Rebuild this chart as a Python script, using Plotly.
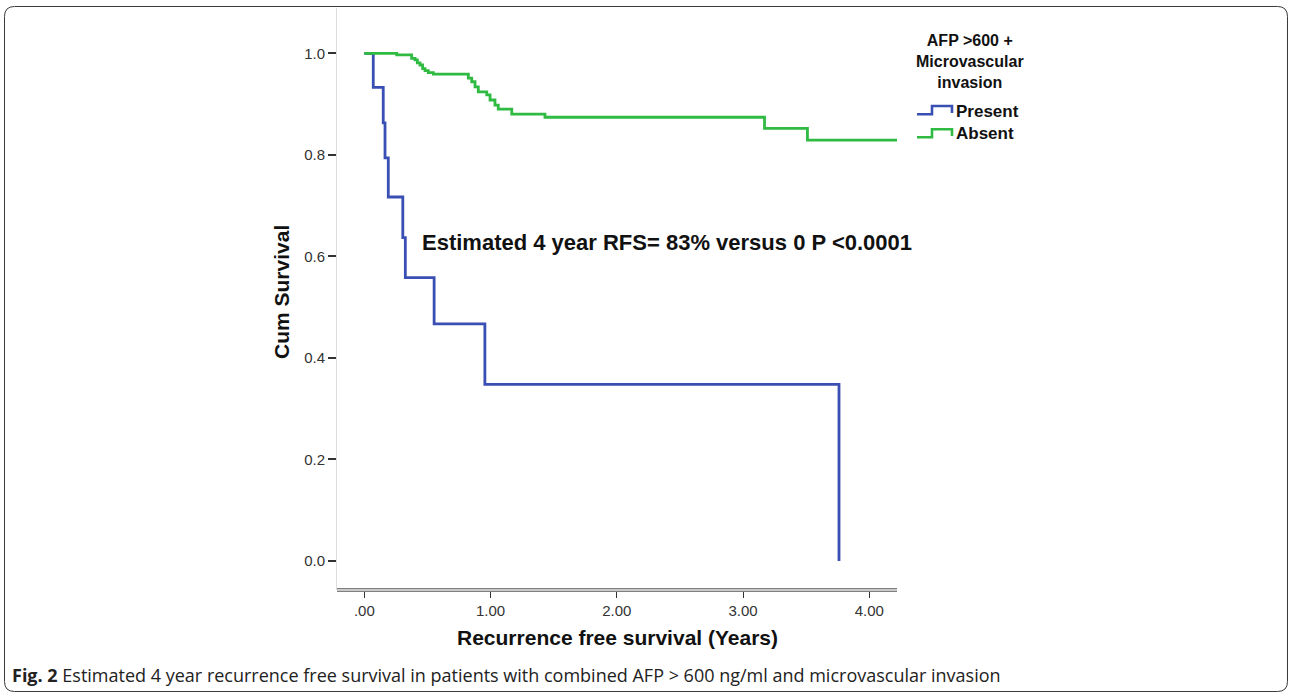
import plotly.graph_objects as go

# ---- data ----
present_t = [0.0, 0.071, 0.150, 0.164, 0.190, 0.305, 0.325, 0.553, 0.955, 3.76]
present_s = [1.0, 0.933, 0.863, 0.794, 0.717, 0.637, 0.558, 0.467, 0.348, 0.0]

absent_t = [0.0, 0.257, 0.375, 0.402, 0.420, 0.441, 0.462, 0.481, 0.507, 0.547,
            0.824, 0.851, 0.877, 0.903, 0.970, 0.996, 1.035, 1.061, 1.168, 1.431,
            3.17, 3.51, 4.22]
absent_s = [1.0, 0.997, 0.990, 0.987, 0.981, 0.977, 0.970, 0.966, 0.962, 0.959,
            0.951, 0.944, 0.934, 0.924, 0.918, 0.908, 0.898, 0.890, 0.880, 0.874,
            0.852, 0.829, 0.829]

x_tickvals = [0, 1, 2, 3, 4]
x_ticktext = [".00", "1.00", "2.00", "3.00", "4.00"]
y_tickvals = [0, 0.2, 0.4, 0.6, 0.8, 1.0]
y_ticktext = ["0.0", "0.2", "0.4", "0.6", "0.8", "1.0"]

series_names = ["Present", "Absent"]
legend_title = "AFP >600 +<br>Microvascular<br>invasion"
BLUE = "#3a4fb3"
GREEN = "#2fba42"

# ---- layout geometry (pixels) ----
FW, FH = 1292, 695
L, R, T, B = 337, 897, 8, 590
W, H = R - L, B - T


def xp(px):
    return (px - L) / W


def yp(py):
    return (B - py) / H


FONT = "Liberation Sans, Arial, sans-serif"
CAPFONT = "Open Sans, Liberation Sans, sans-serif"

fig = go.Figure()
fig.add_trace(go.Scatter(x=present_t, y=present_s, mode="lines", line_shape="hv",
                         line=dict(color=BLUE, width=2.8), name=series_names[0],
                         showlegend=False))
fig.add_trace(go.Scatter(x=absent_t, y=absent_s, mode="lines", line_shape="hv",
                         line=dict(color=GREEN, width=2.8), name=series_names[1],
                         showlegend=False))

shapes = []
# double x-axis line
shapes.append(dict(type="line", xref="paper", yref="paper", x0=0, x1=1,
                   y0=yp(590), y1=yp(590), line=dict(color="#808080", width=4.2)))
shapes.append(dict(type="line", xref="paper", yref="paper", x0=0, x1=1,
                   y0=yp(590), y1=yp(590), line=dict(color="#e2e2e2", width=1.4)))


# legend step symbols
def step_path(y_low, y_high, y_end):
    pts = [(917, y_low), (932, y_low), (932, y_high), (952, y_high), (952, y_end)]
    return "M " + " L ".join(f"{xp(a):.5f},{yp(b):.5f}" for a, b in pts)


shapes.append(dict(type="path", xref="paper", yref="paper",
                   path=step_path(114.3, 106, 113), line=dict(color=BLUE, width=2.6)))
shapes.append(dict(type="path", xref="paper", yref="paper",
                   path=step_path(137.3, 129.3, 136), line=dict(color=GREEN, width=2.6)))

# outer rounded frame
x0f, y0f, x1f, y1f, rr = 4.5, 6.5, 1287.5, 691.5, 10
frame = (f"M {xp(x0f + rr):.5f},{yp(y0f):.5f} L {xp(x1f - rr):.5f},{yp(y0f):.5f} "
         f"Q {xp(x1f):.5f},{yp(y0f):.5f} {xp(x1f):.5f},{yp(y0f + rr):.5f} "
         f"L {xp(x1f):.5f},{yp(y1f - rr):.5f} "
         f"Q {xp(x1f):.5f},{yp(y1f):.5f} {xp(x1f - rr):.5f},{yp(y1f):.5f} "
         f"L {xp(x0f + rr):.5f},{yp(y1f):.5f} "
         f"Q {xp(x0f):.5f},{yp(y1f):.5f} {xp(x0f):.5f},{yp(y1f - rr):.5f} "
         f"L {xp(x0f):.5f},{yp(y0f + rr):.5f} "
         f"Q {xp(x0f):.5f},{yp(y0f):.5f} {xp(x0f + rr):.5f},{yp(y0f):.5f} Z")
shapes.append(dict(type="path", xref="paper", yref="paper", path=frame,
                   line=dict(color="#3a3a3a", width=1)))

annotations = [
    dict(text="<b>Estimated 4 year RFS= 83% versus 0 P <0.0001</b>", x=0.44, y=0.627,
         xref="x", yref="y", xanchor="left", yanchor="middle", showarrow=False,
         font=dict(family=FONT, size=22, color="#111")),
    dict(text="<b>Recurrence free survival (Years)</b>", x=0.5, y=yp(637),
         xref="paper", yref="paper", xanchor="center", yanchor="middle",
         showarrow=False, font=dict(family=FONT, size=21, color="#111")),
    dict(text="<b>Cum Survival</b>", x=xp(281), y=yp(292), xref="paper",
         yref="paper", xanchor="center", yanchor="middle", textangle=-90,
         showarrow=False, font=dict(family=FONT, size=21, color="#111")),
    dict(text=f"<b>{legend_title}</b>", x=xp(970), y=yp(61), xref="paper",
         yref="paper", xanchor="center", yanchor="middle", align="center",
         showarrow=False, font=dict(family=FONT, size=16, color="#111")),
    dict(text=f"<b>{series_names[0]}</b>", x=xp(954), y=yp(111), xref="paper",
         yref="paper", xanchor="left", yanchor="middle", showarrow=False,
         font=dict(family=FONT, size=17, color="#111")),
    dict(text=f"<b>{series_names[1]}</b>", x=xp(954), y=yp(133.5), xref="paper",
         yref="paper", xanchor="left", yanchor="middle", showarrow=False,
         font=dict(family=FONT, size=17, color="#111")),
    dict(text="<b>Fig. 2</b> Estimated 4 year recurrence free survival in patients with "
              "combined AFP > 600 ng/ml and microvascular invasion",
         x=xp(10), y=yp(675), xref="paper", yref="paper", xanchor="left",
         yanchor="middle", showarrow=False,
         font=dict(family=CAPFONT, size=18, color="#222")),
]

fig.update_layout(
    width=FW, height=FH,
    margin=dict(l=L, r=FW - R, t=T, b=FH - B, pad=0),
    paper_bgcolor="white", plot_bgcolor="white",
    showlegend=False,
    shapes=shapes, annotations=annotations,
    xaxis=dict(range=[(L - 364.3) / 126.25, (R - 364.3) / 126.25],
               tickvals=x_tickvals, ticktext=x_ticktext, ticks="outside",
               ticklen=7, tickwidth=1.3, tickcolor="#333", showgrid=False,
               zeroline=False, showline=False,
               tickfont=dict(family=FONT, size=15, color="#333")),
    yaxis=dict(range=[(561 - B) / 507.7, (561 - T) / 507.7],
               tickvals=y_tickvals, ticktext=y_ticktext, ticks="outside",
               ticklen=8, tickwidth=1.6, tickcolor="#333", showgrid=False,
               zeroline=False, showline=True, linecolor="#dcdcdc", linewidth=1,
               tickfont=dict(family=FONT, size=15, color="#333")),
)

fig.write_html("out.html")
